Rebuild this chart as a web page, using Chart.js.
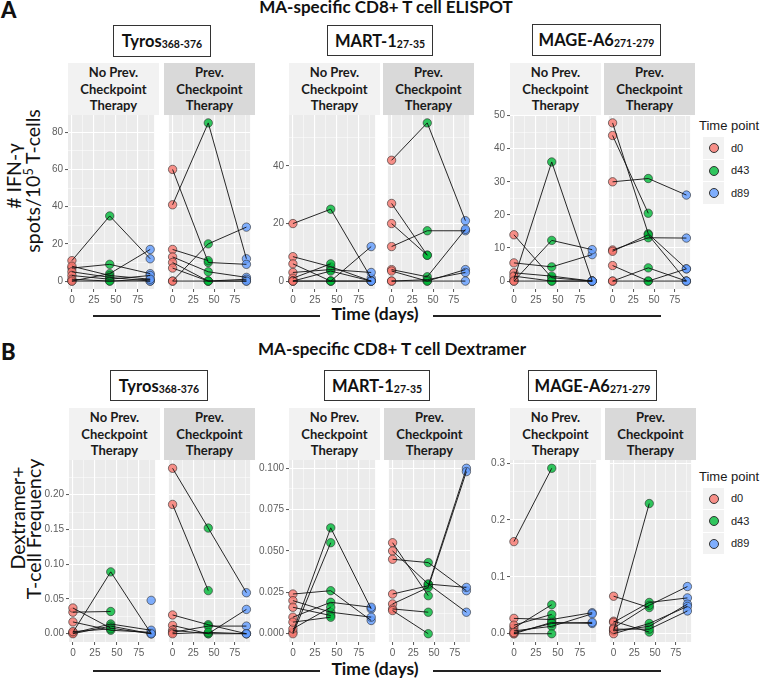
<!DOCTYPE html>
<html>
<head>
<meta charset="utf-8">
<script src="https://cdn.jsdelivr.net/npm/chart.js@4.4.1/dist/chart.umd.min.js"></script>
<style>
  body { margin: 0; width: 763px; height: 679px; position: relative; overflow: hidden; background: #fff; font-family: Lato, sans-serif; color: #111; }
  .abs { position: absolute; }
  canvas { position: absolute; }
  .plabel { font-weight: 900; font-size: 22px; line-height: 22px; }
  .title { font-weight: bold; font-size: 17px; line-height: 17px; white-space: nowrap; transform: translateX(-50%); }
  .box { border: 1.3px solid #333; box-sizing: border-box; display: flex; align-items: center; justify-content: center; font-weight: bold; font-size: 16.5px; white-space: nowrap; }
  .box sub { font-size: 10.5px; vertical-align: baseline; position: relative; top: 3px; }
  .strip { display: flex; align-items: center; justify-content: center; text-align: center; font-weight: bold; font-size: 13px; line-height: 16.7px; color: #1a1a1a; }
  .ytitle { white-space: nowrap; font-size: 19.5px; line-height: 20px; transform: translate(-50%, -50%) rotate(-90deg); color: #111; }
  .ytitle sup { font-size: 12.5px; vertical-align: baseline; position: relative; top: -7px; }
  .xtitle { font-weight: bold; font-size: 17.5px; line-height: 17.5px; white-space: nowrap; transform: translateX(-50%); }
  .rule { height: 1.7px; background: #222; }
  .legtitle { font-family: 'Liberation Sans', sans-serif; font-size: 13px; line-height: 13px; color: #1a1a1a; white-space: nowrap; }
  .key { width: 21px; height: 21.5px; background: #f2f2f2; }
  .key span { position: absolute; left: 6px; top: 6.2px; width: 8px; height: 8px; border-radius: 50%; border: 0.7px solid #333; }
  .keylab { font-family: 'Liberation Sans', sans-serif; font-size: 11px; line-height: 11px; color: #222; }
</style>
</head>
<body>

<!-- panel A -->
<div class="abs plabel" style="left:1px;top:-1px">A</div>
<div class="abs title" style="left:386px;top:-2.4px">MA-specific CD8+ T cell ELISPOT</div>
<div class="abs box" style="left:113px;top:25px;width:98px;height:32px">Tyros<sub>368-376</sub></div>
<div class="abs box" style="left:327px;top:25px;width:106px;height:31px">MART-1<sub>27-35</sub></div>
<div class="abs box" style="left:532px;top:24px;width:129px;height:32px">MAGE-A6<sub>271-279</sub></div>
<div class="abs ytitle" style="left:14.2px;top:176px"># IFN-γ</div>
<div class="abs ytitle" style="left:34.2px;top:181px">spots/10<sup>5</sup> T-cells</div>
<div class="abs xtitle" style="left:375px;top:305px">Time (days)</div>
<div class="abs rule" style="left:93px;top:315px;width:227px"></div>
<div class="abs rule" style="left:433px;top:315px;width:228px"></div>

<!-- panel B -->
<div class="abs plabel" style="left:1px;top:341px">B</div>
<div class="abs title" style="left:392px;top:340px">MA-specific CD8+ T cell Dextramer</div>
<div class="abs box" style="left:110px;top:370px;width:98px;height:31px">Tyros<sub>368-376</sub></div>
<div class="abs box" style="left:324px;top:370px;width:106px;height:31px">MART-1<sub>27-35</sub></div>
<div class="abs box" style="left:528px;top:370px;width:129px;height:31px">MAGE-A6<sub>271-279</sub></div>
<div class="abs ytitle" style="left:17.5px;top:518px">Dextramer+</div>
<div class="abs ytitle" style="left:34.2px;top:529px">T-cell Frequency</div>
<div class="abs xtitle" style="left:375px;top:660.2px">Time (days)</div>
<div class="abs rule" style="left:93px;top:670px;width:227px"></div>
<div class="abs rule" style="left:433px;top:670px;width:228px"></div>

<script>
// Time points (days) and their legend names
const TIMES = [0, 43, 89];
const TIME_LABELS = ['d0', 'd43', 'd89'];
const X_TICKS = [0, 25, 50, 75];

// each row = one patient: [d0, d43, d89], null = not measured
// ELISPOT, spots per 10^5 T-cells
const elispotTyrosNoPrev = [[11, 35, 12], [0, 4, 17], [7, 9, 4], [8, 3, 1], [5, 2, 0], [3, 1, 3], [1, 0, 0], [0, 0, 1]];
const elispotTyrosPrev = [[41, 85, 12], [60, 10, 9], [0, 20, 29], [17, 11, null], [13, 5, 2], [10, 0, 0], [7, 0, 1], [0, 0, 0]];
const elispotMartNoPrev = [[20, 25, 1], [8.5, 5, 0], [6, 0, 0], [3, 4, 3], [1, 6, null], [0, 0, 12], [0, 0, 0], [0, 3.5, 0]];
const elispotMartPrev = [[42, 55, 21], [12, 17.5, 17.5], [27, 9, null], [20, 9, null], [4, 1.5, 18], [3.5, 0, 4], [0, 0.5, 3], [0, 0, 0]];
const elispotMageNoPrev = [[0.5, 36, 0], [14, 1, 0], [5.5, 4.3, 8], [0, 12.3, 9.5], [2.5, 1.5, 0], [1.5, 0, 0], [0, 0, 0]];
const elispotMagePrev = [[30, 31, 26], [47.8, 14.3, 3.7], [44, 20.5, null], [9.4, 13.1, 13], [9, 14, 0], [4.7, 0, 3.7], [0, 4, 0], [0, 0, 0]];

// Dextramer+ T-cell frequency
const dexTyrosNoPrev = [[0.002, 0.089, 0], [0.031, 0.032, null], [0.037, 0.008, 0], [0.017, 0.005, 0.002], [0.001, 0.014, 0.005], [0, 0.011, 0], [0.003, 0.007, null], [null, null, 0.048]];
const dexTyrosPrev = [[0.238, 0.152, 0.059], [0.186, 0.062, null], [0.027, 0.013, 0], [0.012, 0, 0], [0.005, 0, 0.035], [0.002, 0.011, 0.011], [0, 0.002, 0]];
const dexMartNoPrev = [[0.001, 0.064, 0.015], [0, 0.055, null], [0.024, 0.026, 0.008], [0.020, 0.013, 0.010], [0.016, 0.011, null], [0.010, 0.019, 0.016], [0.003, 0.016, null], [0.007, 0.010, null]];
const dexMartPrev = [[0.055, 0.023, null], [0.050, 0.030, 0.013], [0.045, 0.043, 0.026], [0.024, 0.029, 0.100], [0.018, 0.028, 0.098], [0.015, 0.013, null], [0.014, 0.000, null], [null, 0.030, 0.028]];
const dexMageNoPrev = [[0.162, 0.291, null], [0.027, 0.025, 0.037], [0.010, 0.051, null], [0.005, 0.013, 0.035], [0.015, 0.034, null], [0, 0.020, 0.018], [0, 0.0, null], [0.002, 0.018, 0.020]];
const dexMagePrev = [[0.005, 0.229, null], [0.066, 0.046, null], [0.022, 0.003, null], [0.020, 0.055, 0.063], [0.010, 0.050, 0.083], [0.005, 0.013, 0.052], [0, 0.018, 0.048], [0.008, 0.008, 0.040]];

// y tick values and their printed labels
const elispotTyrosTicks = [0, 20, 40, 60, 80];
const elispotTyrosLabels = ['0', '20', '40', '60', '80'];
const elispotMartTicks = [0, 20, 40];
const elispotMartLabels = ['0', '20', '40'];
const elispotMageTicks = [0, 10, 20, 30, 40, 50];
const elispotMageLabels = ['0', '10', '20', '30', '40', '50'];
const dexTyrosTicks = [0, 0.05, 0.1, 0.15, 0.2];
const dexTyrosLabels = ['0.00', '0.05', '0.10', '0.15', '0.20'];
const dexMartTicks = [0, 0.025, 0.05, 0.075, 0.1];
const dexMartLabels = ['0.000', '0.025', '0.050', '0.075', '0.100'];
const dexMageTicks = [0, 0.1, 0.2, 0.3];
const dexMageLabels = ['0.0', '0.1', '0.2', '0.3'];

const POINT_FILL = ['rgba(248,118,109,0.8)', 'rgba(0,186,56,0.8)', 'rgba(97,156,255,0.8)'];
const TICK_FONT = { family: "'Liberation Sans', Arial, sans-serif", size: 10 };
const TICK_COLOR = '#5e5e5e';

// fill the panel background like ggplot's grey theme
const panelBg = {
  id: 'panelBg',
  beforeDraw(chart) {
    const a = chart.chartArea;
    chart.ctx.save();
    chart.ctx.fillStyle = '#ebebeb';
    chart.ctx.fillRect(a.left, a.top, a.right - a.left, a.bottom - a.top);
    chart.ctx.restore();
  }
};

function isIn(list, v) {
  return list.some(function(t) { return Math.abs(t - v) < 1e-9; });
}

// major ticks plus ggplot-style minor breaks halfway between them
function withMinor(major, lo, hi) {
  const step = major[1] - major[0];
  const out = [];
  for (let v = major[0] - step / 2; v <= hi + 1e-12; v += step / 2) {
    if (v >= lo - 1e-12) out.push(+v.toFixed(6));
  }
  return out;
}

function expand(lo, hi) {
  const d = (hi - lo) * 0.05;
  return [lo - d, hi + d];
}

function yLimits(a, b) {
  const vals = a.concat(b).flat().filter(function(v) { return v !== null; });
  return expand(Math.min.apply(null, vals), Math.max.apply(null, vals));
}

const X_LIM = expand(Math.min.apply(null, TIMES), Math.max.apply(null, TIMES));

function renderPanel(rect, patients, yTicks, yLabels, yLim, showY) {
  const YW = showY ? 34 : 0;
  const PT = 8;
  const XH = 20;
  const cv = document.createElement('canvas');
  const w = YW + rect.w, h = PT + rect.h + XH;
  cv.width = w; cv.height = h;
  cv.style.width = w + 'px'; cv.style.height = h + 'px';
  cv.style.left = (rect.x - YW) + 'px';
  cv.style.top = (rect.y - PT) + 'px';
  document.body.appendChild(cv);

  const xGrid = withMinor(X_TICKS, X_LIM[0], X_LIM[1]);
  const yGrid = withMinor(yTicks, yLim[0], yLim[1]);

  const lines = patients.map(function(p) {
    return {
      showLine: true,
      data: TIMES.map(function(t, i) { return { x: t, y: p[i] }; })
        .filter(function(d) { return d.y !== null; }),
      borderColor: '#111',
      borderWidth: 0.9,
      pointRadius: 0,
      order: 0,
      clip: false
    };
  });

  const points = TIMES.map(function(t, i) {
    return {
      data: patients.filter(function(p) { return p[i] !== null; })
        .map(function(p) { return { x: t, y: p[i] }; }),
      backgroundColor: POINT_FILL[i],
      borderColor: 'rgba(40,40,40,0.85)',
      borderWidth: 0.7,
      pointRadius: 4.2,
      order: 1,
      clip: false
    };
  });

  new Chart(cv, {
    type: 'scatter',
    data: { datasets: lines.concat(points) },
    plugins: [panelBg],
    options: {
      responsive: false,
      animation: false,
      events: [],
      layout: { padding: { top: PT, left: 0, right: 0, bottom: 0 } },
      plugins: { legend: { display: false }, tooltip: { enabled: false } },
      scales: {
        x: {
          type: 'linear',
          min: X_LIM[0],
          max: X_LIM[1],
          afterBuildTicks: function(s) { s.ticks = xGrid.map(function(v) { return { value: v }; }); },
          afterFit: function(s) { s.height = XH; s.paddingLeft = 0; s.paddingRight = 0; },
          border: { display: false },
          grid: {
            color: '#ffffff',
            lineWidth: function(c) { return c.tick && isIn(X_TICKS, c.tick.value) ? 1.1 : 0.5; },
            tickLength: 3,
            tickWidth: 1,
            tickColor: function(c) { return c.tick && isIn(X_TICKS, c.tick.value) ? '#555' : 'rgba(0,0,0,0)'; }
          },
          ticks: {
            autoSkip: false,
            maxRotation: 0,
            padding: 2,
            color: TICK_COLOR,
            font: TICK_FONT,
            callback: function(v) { return isIn(X_TICKS, v) ? String(v) : ''; }
          }
        },
        y: {
          type: 'linear',
          min: yLim[0],
          max: yLim[1],
          afterBuildTicks: function(s) { s.ticks = yGrid.map(function(v) { return { value: v }; }); },
          afterFit: function(s) { s.width = YW; s.paddingTop = 0; s.paddingBottom = 0; },
          border: { display: false },
          grid: {
            color: '#ffffff',
            lineWidth: function(c) { return c.tick && isIn(yTicks, c.tick.value) ? 1.1 : 0.5; },
            drawTicks: showY,
            tickLength: 3,
            tickWidth: 1,
            tickColor: function(c) { return c.tick && isIn(yTicks, c.tick.value) ? '#555' : 'rgba(0,0,0,0)'; }
          },
          ticks: {
            display: showY,
            autoSkip: false,
            padding: 2,
            color: TICK_COLOR,
            font: TICK_FONT,
            callback: function(v) {
              const i = yTicks.findIndex(function(t) { return Math.abs(t - v) < 1e-9; });
              return i >= 0 ? yLabels[i] : '';
            }
          }
        }
      }
    }
  });
}

function addStrip(rect, top, text, dark) {
  const d = document.createElement('div');
  d.className = 'abs strip';
  d.style.left = rect.x + 'px';
  d.style.top = top + 'px';
  d.style.width = rect.w + 'px';
  d.style.height = '52px';
  d.style.background = dark ? '#d9d9d9' : '#f2f2f2';
  d.innerHTML = text;
  document.body.appendChild(d);
}

function addLegend(titleTop, firstKeyTop) {
  const t = document.createElement('div');
  t.className = 'abs legtitle';
  t.style.left = '699px';
  t.style.top = titleTop + 'px';
  t.textContent = 'Time point';
  document.body.appendChild(t);
  TIME_LABELS.forEach(function(lab, i) {
    const k = document.createElement('div');
    k.className = 'abs key';
    k.style.left = '702.5px';
    k.style.top = (firstKeyTop + i * 22.5) + 'px';
    k.innerHTML = '<span style="background:' + POINT_FILL[i] + '"></span>';
    document.body.appendChild(k);
    const l = document.createElement('div');
    l.className = 'abs keylab';
    l.style.left = '731px';
    l.style.top = (firstKeyTop + i * 22.5 + 5.5) + 'px';
    l.textContent = lab;
    document.body.appendChild(l);
  });
}

const NO_PREV = 'No Prev.<br>Checkpoint<br>Therapy';
const PREV = 'Prev.<br>Checkpoint<br>Therapy';

function renderPair(y, h, stripTop, x1, x2, a, b, ticks, labels) {
  const lim = yLimits(a, b);
  const r1 = { x: x1, y: y, w: 91, h: h };
  const r2 = { x: x2, y: y, w: 91, h: h };
  addStrip(r1, stripTop, NO_PREV, false);
  addStrip(r2, stripTop, PREV, true);
  renderPanel(r1, a, ticks, labels, lim, true);
  renderPanel(r2, b, ticks, labels, lim, false);
}

// row A: ELISPOT
renderPair(115, 174, 63, 68, 164, elispotTyrosNoPrev, elispotTyrosPrev, elispotTyrosTicks, elispotTyrosLabels);
renderPair(115, 174, 63, 289, 383, elispotMartNoPrev, elispotMartPrev, elispotMartTicks, elispotMartLabels);
renderPair(115, 174, 63, 510, 604, elispotMageNoPrev, elispotMagePrev, elispotMageTicks, elispotMageLabels);
addLegend(119, 137);

// row B: Dextramer
renderPair(460, 182, 408, 69, 164, dexTyrosNoPrev, dexTyrosPrev, dexTyrosTicks, dexTyrosLabels);
renderPair(460, 182, 408, 289, 384, dexMartNoPrev, dexMartPrev, dexMartTicks, dexMartLabels);
renderPair(460, 182, 408, 510, 605, dexMageNoPrev, dexMagePrev, dexMageTicks, dexMageLabels);
addLegend(469.5, 487.5);
</script>
</body>
</html>
